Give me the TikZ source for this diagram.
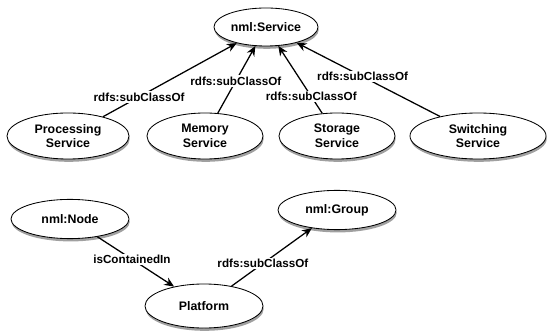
\documentclass[tikz,border=0pt]{standalone}
\usepackage{fontspec}
\setmainfont{Liberation Sans}
\usetikzlibrary{positioning,quotes,calc,shadows}
\usetikzlibrary{shapes.geometric,arrows.meta}

\begin{document}
\begin{tikzpicture}[x=0.025cm, y=-0.025cm,
		cls/.style={ellipse, draw, line width=0.6pt, fill=white, align=center,
			font=\bfseries\fontsize{8.8}{10.5}\selectfont,
			inner xsep=0pt, inner ysep=-1pt, minimum width=2.95cm, minimum height=0.98cm,
			drop shadow={shadow xshift=0.5pt, shadow yshift=-2pt, opacity=0.75}},
		twoline/.style={cls, minimum width=2.9cm, minimum height=1.15cm},
		rel/.style={line width=0.9pt, -{Stealth[length=7pt, width=6pt]}},
		lbl/.style={fill=white, inner sep=1pt, font=\bfseries\fontsize{8.3}{10}\selectfont}]
		\useasboundingbox (0,0) rectangle (550,333);
		\node[cls, minimum width=2.6cm, minimum height=0.95cm] (service) at (266,27) {nml:Service};
		\node[twoline, minimum width=3.05cm] (proc) at (68,136) {Processing\\Service};
		\node[twoline] (mem) at (205,136) {Memory\\Service};
		\node[twoline] (stor) at (337,136) {Storage\\Service};
		\node[twoline, minimum width=3.4cm] (switch) at (478,136) {Switching\\Service};
		\node[cls] (nmlnode) at (70,219) {nml:Node};
		\node[cls] (group) at (337,210) {nml:Group};
		\node[cls, minimum height=1.1cm] (platform) at (204,306) {Platform};
		\draw[rel] (proc) to node[lbl, pos=0.27] {rdfs:subClassOf} (service);
		\draw[rel] (mem) to node[lbl, pos=0.48] {rdfs:subClassOf} (service);
		\draw[rel] (stor) to node[lbl, pos=0.25] {rdfs:subClassOf} (service);
		\draw[rel] (switch) to node[lbl, pos=0.54] {rdfs:subClassOf} (service);
		\draw[rel] (nmlnode) to node[lbl, pos=0.45] {isContainedIn} (platform);
		\draw[rel] (platform) to node[lbl, pos=0.39] {rdfs:subClassOf} (group);
	\end{tikzpicture}
\end{document}
